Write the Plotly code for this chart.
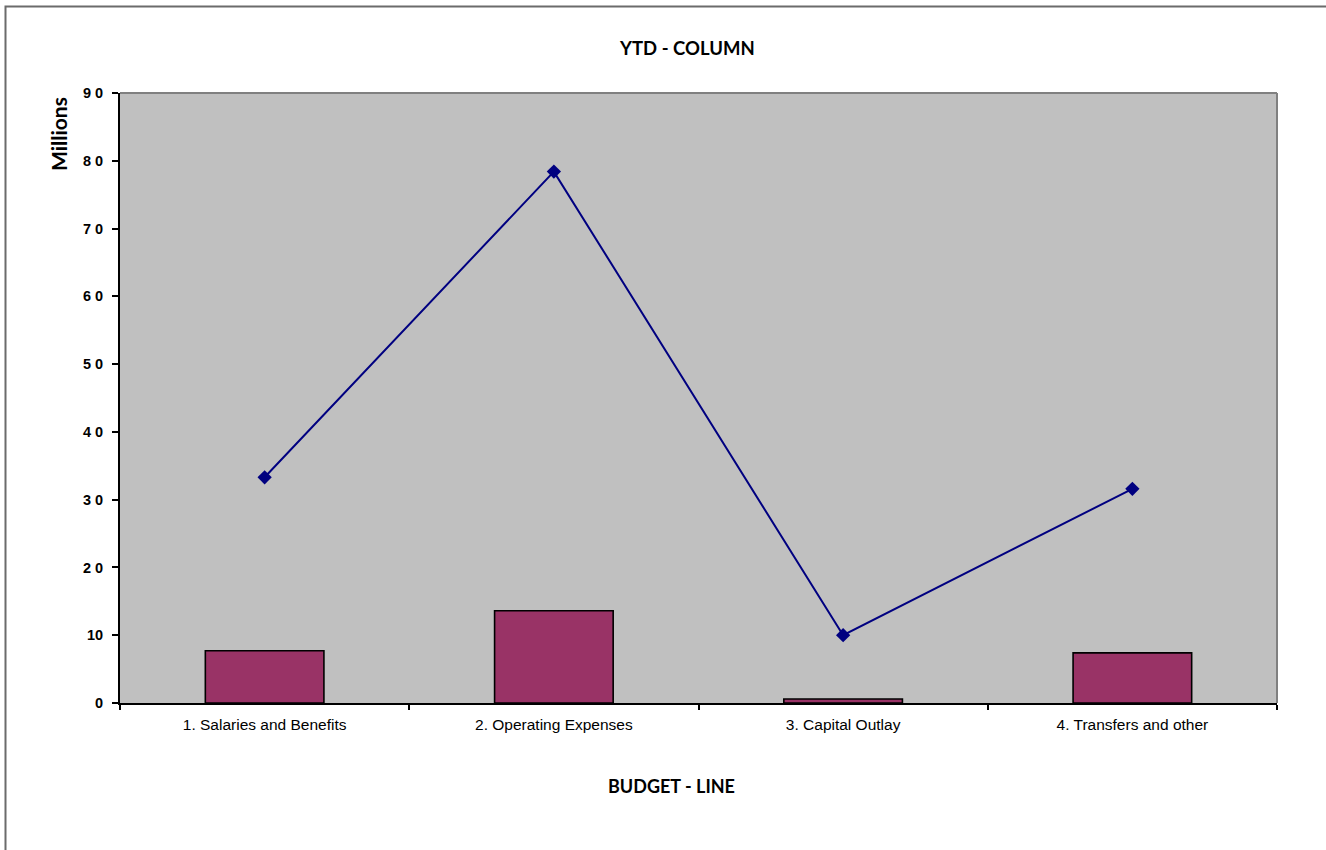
import plotly.graph_objects as go

# Budget lines and year-to-date values (millions)
categories = ["1. Salaries and Benefits", "2. Operating Expenses", "3. Capital Outlay", "4. Transfers and other"]
column_values = [7.7, 13.6, 0.6, 7.4]
line_values = [33.3, 78.4, 10.0, 31.6]
y_ticks = [0, 10, 20, 30, 40, 50, 60, 70, 80, 90]
y_tick_text = ["0", "10", "2 0", "3 0", "4 0", "5 0", "6 0", "7 0", "8 0", "9 0"]

W, H = 1326, 850
L, R, T, B = 120, 49, 93, 147
pw, ph = W - L - R, H - T - B


def px_x(x):
    return (x - L) / pw


def px_y(y):
    return (H - B - y) / ph


fig = go.Figure()
fig.add_trace(go.Bar(
    x=categories, y=column_values, width=0.41,
    marker=dict(color="#993366", line=dict(color="black", width=1.6)),
    showlegend=False, hoverinfo="x+y",
))
fig.add_trace(go.Scatter(
    x=categories, y=line_values, mode="lines+markers",
    line=dict(color="#000080", width=2),
    marker=dict(symbol="diamond", size=11, color="#000080"),
    showlegend=False,
))

shapes = [
    # outer chart frame
    dict(type="rect", xref="paper", yref="paper",
         x0=px_x(5.5), x1=px_x(1335), y0=px_y(860), y1=px_y(6.5),
         line=dict(color="#6b6b6b", width=2), fillcolor="rgba(0,0,0,0)", layer="below"),
    # plot-area top and right edges
    dict(type="line", xref="paper", yref="paper", x0=0, x1=1, y0=1, y1=1,
         line=dict(color="#808080", width=2)),
    dict(type="line", xref="paper", yref="paper", x0=1, x1=1, y0=0, y1=1,
         line=dict(color="#808080", width=2)),
]

annotations = [
    dict(text="<b>YTD - COLUMN</b>", xref="paper", yref="paper",
         x=px_x(687), y=px_y(48), xanchor="center", yanchor="middle",
         showarrow=False,
         font=dict(family="Lato, Liberation Sans, Arial", size=18.5, color="black")),
    dict(text="<b>BUDGET - LINE</b>", xref="paper", yref="paper",
         x=px_x(671), y=px_y(786), xanchor="center", yanchor="middle",
         showarrow=False,
         font=dict(family="Lato, Liberation Sans, Arial", size=18, color="black")),
    dict(text="<b>Millions</b>", xref="paper", yref="paper",
         x=px_x(58), y=px_y(134), xanchor="center", yanchor="middle",
         showarrow=False, textangle=-90,
         font=dict(family="Lato, Liberation Sans, Arial", size=21, color="black")),
]

fig.update_layout(
    width=W, height=H,
    margin=dict(l=L, r=R, t=T, b=B, pad=0),
    paper_bgcolor="white", plot_bgcolor="#C0C0C0",
    shapes=shapes, annotations=annotations,
    font=dict(family="Liberation Sans, Arial", color="black"),
)
fig.update_xaxes(
    type="category", showgrid=False, zeroline=False,
    showline=True, linecolor="black", linewidth=2,
    ticks="outside", tickson="boundaries", ticklen=5, tickwidth=1.5, tickcolor="black",
    tickfont=dict(family="Liberation Sans, Arial", size=15.5, color="black"),
    ticklabelstandoff=6,
    range=[-0.5, 3.5],
)
fig.update_yaxes(
    range=[0, 90], tickvals=y_ticks, ticktext=y_tick_text,
    showgrid=False, zeroline=False,
    showline=True, linecolor="black", linewidth=2,
    ticks="outside", ticklen=6, tickwidth=2, tickcolor="black",
    tickfont=dict(family="Liberation Sans, Arial", size=14.5, color="black", weight="bold"),
    ticklabelstandoff=6,
)

fig.write_html("out.html")
